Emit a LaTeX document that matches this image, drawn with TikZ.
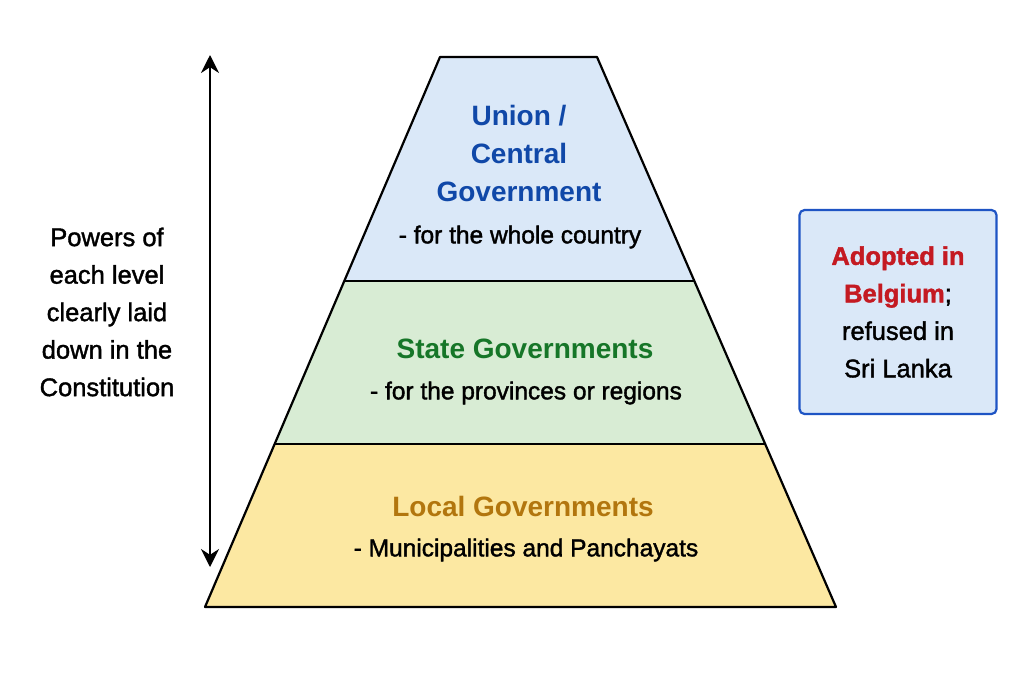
\documentclass[tikz,border=0pt]{standalone}
\usepackage{fontspec}
\setmainfont{Liberation Sans}
\newfontfamily\mediumfont{Liberation Sans}[FakeBold=1.5]
\usepackage{xcolor}
\usepackage{tikz}
\usetikzlibrary{positioning,arrows.meta}

\definecolor{unionblue}{RGB}{16,72,168}
\definecolor{stategreen}{RGB}{22,118,40}
\definecolor{localgold}{RGB}{178,118,14}
\definecolor{belgred}{RGB}{196,26,34}
\definecolor{fillblue}{RGB}{218,232,248}
\definecolor{fillgreen}{RGB}{216,236,212}
\definecolor{fillyellow}{RGB}{252,232,162}
\definecolor{boxblue}{RGB}{30,84,196}

\begin{document}
\begin{tikzpicture}[
    x=1pt, y=-1pt,
    head/.style={font=\bfseries\fontsize{28}{38}\selectfont, align=center},   % Style for the level names
    sub/.style={font=\mediumfont\fontsize{24.5}{30}\selectfont, text=black},  % Style for the level descriptions
    side/.style={font=\mediumfont\fontsize{25.5}{37.5}\selectfont, align=center}, % Style for the side notes
    edge/.style={line width=2.2pt, line join=round},                          % Style for the pyramid outline
    >={Stealth[length=18pt,width=18pt]}                                        % Arrowhead style
    ]
    \useasboundingbox[fill=white] (0,0) rectangle (1024,683);

    % Corners of the pyramid layers
    \coordinate (TL) at (440,57);    \coordinate (TR) at (597,57);
    \coordinate (UL) at (344.3,281); \coordinate (UR) at (694.3,281);
    \coordinate (ML) at (274.6,444); \coordinate (MR) at (765.2,444);
    \coordinate (BL) at (205,607);   \coordinate (BR) at (836,607);

    % Fill the three layers
    \fill[fillblue]   (TL) -- (TR) -- (UR) -- (UL) -- cycle;
    \fill[fillgreen]  (UL) -- (UR) -- (MR) -- (ML) -- cycle;
    \fill[fillyellow] (ML) -- (MR) -- (BR) -- (BL) -- cycle;

    % Outline and dividing lines
    \draw[edge] (TL) -- (TR) -- (BR) -- (BL) -- cycle;
    \draw[edge] (UL) -- (UR);
    \draw[edge] (ML) -- (MR);

    % Union level
    \node[head, text=unionblue] (union) at (519,153) {Union /\\Central\\Government};
    \node[sub] (unionsub) at (520,237) {- for the whole country};

    % State level
    \node[head, text=stategreen] (state) at (525,349) {State Governments};
    \node[sub] (statesub) at (526,393) {- for the provinces or regions};

    % Local level
    \node[head, text=localgold] (local) at (523,506) {Local Governments};
    \node[sub] (localsub) at (526,550) {- Municipalities and Panchayats};

    % Double arrow along the left side
    \coordinate (arrtop) at (210,55);
    \coordinate (arrbot) at (210,567);
    \draw[<->, line width=2.2pt] (arrtop) -- (arrbot);

    % Powers note
    \node[side] (powers) at (107,312) {Powers of\\each level\\clearly laid\\down in the\\Constitution};

    % Belgium / Sri Lanka box
    \node[draw=boxblue, fill=fillblue, line width=2.2pt, rounded corners=5pt,
          minimum width=197pt, minimum height=204pt] (note) at (898,312) {};
    \node[side] (notetext) at (note.center)
         {\textcolor{belgred}{\bfseries Adopted in}\\\textcolor{belgred}{\bfseries Belgium};\\refused in\\Sri Lanka};

\end{tikzpicture}
\end{document}
